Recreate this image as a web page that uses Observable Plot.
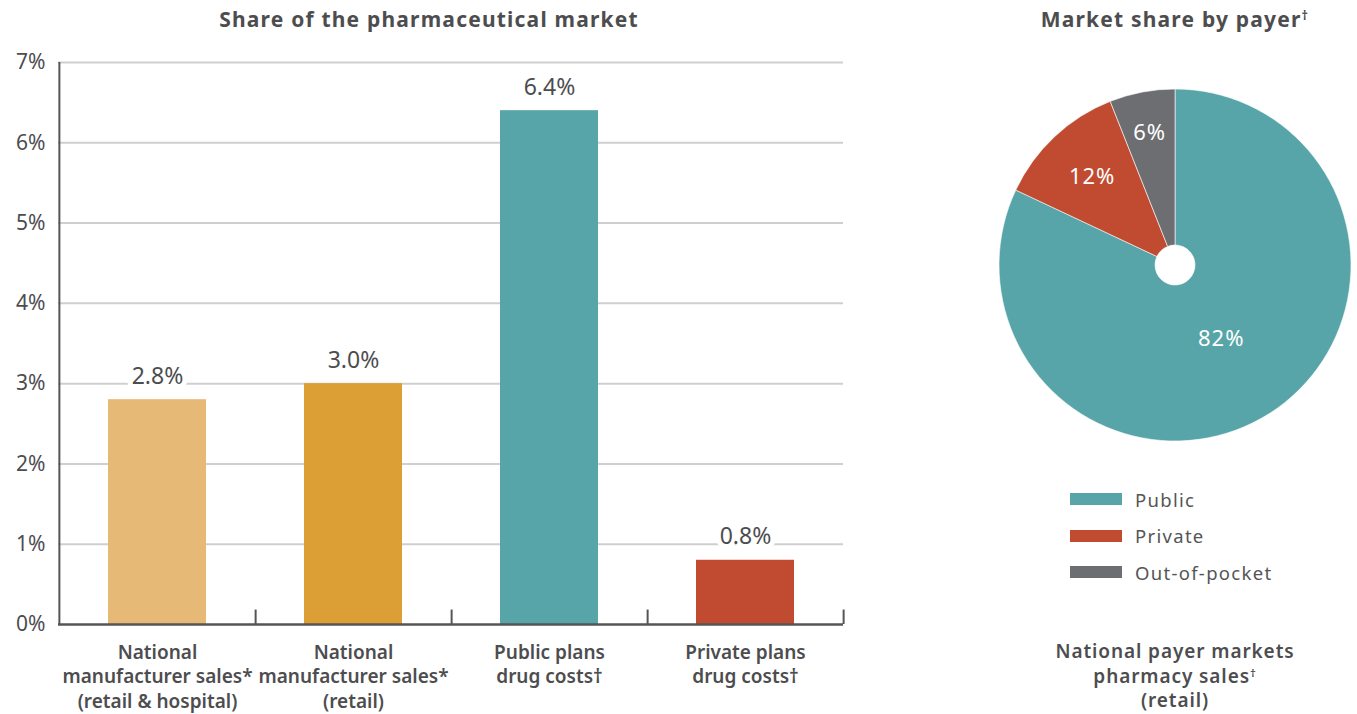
<!DOCTYPE html>
<html>
<head>
<meta charset="utf-8">
<script src="https://cdn.jsdelivr.net/npm/d3@7"></script>
<script src="https://cdn.jsdelivr.net/npm/@observablehq/plot@0.6"></script>
<style>
html, body { margin: 0; padding: 0; background: #fff; overflow: hidden; }
body { width: 1357px; height: 714px; position: relative; font-family: "Noto Sans", sans-serif; color: #4d4d4f; }
.title { position: absolute; top: 5px; font-weight: 700; font-size: 21px; line-height: 28px; letter-spacing: 1.2px; text-align: center; white-space: nowrap; }
.title sup, .caption sup { font-size: 0.6em; vertical-align: 0.55em; line-height: 0; }
.caption { position: absolute; left: 985px; width: 380px; top: 639px; font-weight: 600; font-size: 19px; line-height: 24.5px; letter-spacing: 0.9px; text-align: center; }
#bars { position: absolute; left: 0; top: 0; }
#pie { position: absolute; left: 995px; top: 0; }
#legend { position: absolute; left: 1070px; top: 481px; }
#legend div[class$="-swatch"] { height: 36.5px; padding-bottom: 0 !important; letter-spacing: 1.3px; }
#legend svg { margin-right: 13px !important; }
</style>
</head>
<body>
<div class="title" style="left:0;width:858px">Share of the pharmaceutical market</div>
<div class="title" style="left:995px;width:360px">Market share by payer<sup>†</sup></div>
<div id="bars"></div>
<div id="pie"></div>
<div id="legend"></div>
<div class="caption">National payer markets<br>pharmacy sales<sup>†</sup><br>(retail)</div>
<script>
// ---- data ----
const categories = [
  "National\nmanufacturer sales*\n(retail & hospital)",
  "National\nmanufacturer sales*\n(retail)",
  "Public plans\ndrug costs†",
  "Private plans\ndrug costs†"
];
const shares = [2.8, 3.0, 6.4, 0.8];
const barColors = ["#E6B977", "#DB9F36", "#57A5A8", "#C04B30"];
const yTicks = [0, 1, 2, 3, 4, 5, 6, 7];

const payers = ["Public", "Private", "Out-of-pocket"];
const payerShares = [82, 12, 6];
const payerColors = ["#57A5A8", "#C04B30", "#6D6E72"];

// ---- bar chart ----
const barData = categories.map((c, i) => ({category: c, share: shares[i]}));
const W = 870, mL = 58, mR = 27;
const step = (W - mL - mR) / categories.length;

const bars = Plot.plot({
  width: W, height: 714,
  marginLeft: mL, marginRight: mR, marginTop: 62, marginBottom: 90,
  style: {fontFamily: "Noto Sans, sans-serif", color: "#4d4d4f", background: "transparent"},
  x: {domain: categories, paddingInner: 0.5, paddingOuter: 0.25, axis: null},
  y: {domain: [0, 7]},
  color: {domain: categories, range: barColors},
  marks: [
    Plot.gridY(yTicks.slice(1), {stroke: "#cfcfcf", strokeOpacity: 1, strokeWidth: 2}),
    Plot.axisY(yTicks, {tickSize: 0, tickPadding: 13, tickFormat: d => d + "%", fontSize: 21, label: null}),
    Plot.barY(barData, {x: "category", y: "share", fill: "category"}),
    Plot.ruleY([0], {stroke: "#555", strokeWidth: 2.5}),
    Plot.ruleX([categories[0]], {x: d => d, dx: -step / 2, y1: 0, y2: 7, stroke: "#555", strokeWidth: 2}),
    Plot.ruleX(categories, {x: d => d, dx: step / 2, y1: 0, y2: 0.18, stroke: "#555", strokeWidth: 2}),
    Plot.text(barData, {x: "category", y: "share", text: d => d.share.toFixed(1) + "%",
      dy: -16, lineAnchor: "bottom", fontSize: 23, fill: "#4d4d4f", stroke: "white", strokeWidth: 10}),
    Plot.text(barData, {x: "category", y: 0, text: "category", lineAnchor: "top", dy: 17,
      fontSize: 19, fontWeight: 600, lineHeight: 1.29, fill: "#4d4d4f"})
  ]
});
document.getElementById("bars").append(bars);

// ---- pie chart ----
const pieData = payers.map((p, i) => ({payer: p, share: payerShares[i]}));
const colorScale = Plot.scale({color: {type: "ordinal", domain: payers, range: payerColors}});

function pieMark(index, scales, values, dims) {
  const R = 176, r0 = 20;
  const cx = dims.width / 2, cy = 265;
  const total = d3.sum(pieData, d => d.share);
  const arcs = d3.pie().sort(null).value(d => d.share)(pieData);
  const arc = d3.arc().innerRadius(r0).outerRadius(R);
  const g = d3.create("svg:g").attr("transform", `translate(${cx},${cy})`);
  g.selectAll("path").data(arcs).join("path")
    .attr("d", arc)
    .attr("fill", d => colorScale.apply(d.data.payer))
    .attr("stroke", "white").attr("stroke-width", 0.6);
  g.selectAll("text").data(arcs).join("text")
    .attr("transform", d => {
      const f = d.data.share / total;
      const lr = R * Math.max(0.49, 0.85 - 1.35 * f);
      const [x, y] = d3.arc().innerRadius(lr).outerRadius(lr).centroid(d);
      return `translate(${x},${y})`;
    })
    .attr("text-anchor", "middle")
    .attr("dy", "0.35em")
    .attr("fill", "white")
    .attr("font-size", 22)
    .attr("letter-spacing", 1)
    .attr("font-family", "Noto Sans, sans-serif")
    .text(d => d.data.share + "%");
  return g.node();
}

const pie = Plot.plot({
  width: 360, height: 460, margin: 0,
  style: {background: "transparent"},
  marks: [pieMark]
});
document.getElementById("pie").append(pie);

// ---- legend ----
const legend = Plot.legend({
  color: {type: "ordinal", domain: payers, range: payerColors},
  legend: "swatches", columns: 1, swatchWidth: 52, swatchHeight: 12,
  style: {fontSize: "18.5px", fontFamily: "Noto Sans, sans-serif", color: "#555", marginBottom: "0"}
});
document.getElementById("legend").append(legend);
</script>
</body>
</html>
